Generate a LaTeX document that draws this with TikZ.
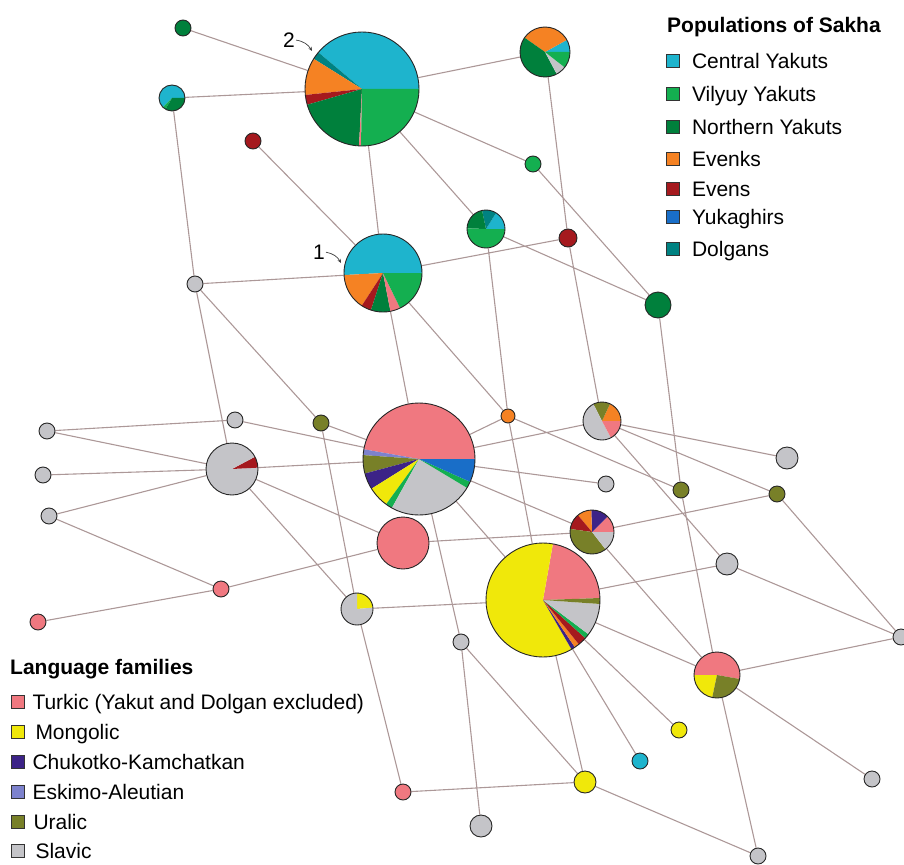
\documentclass[tikz,border=0pt]{standalone}
\usepackage{fontspec}
\setmainfont{Liberation Sans}
\usetikzlibrary{positioning,arrows.meta}
\pgfdeclarelayer{edges}
\pgfsetlayers{edges,main}
%% Farben der Populationen
\definecolor{cya}{RGB}{30,180,205}
\definecolor{vil}{RGB}{20,175,80}
\definecolor{nor}{RGB}{0,128,60}
\definecolor{eve}{RGB}{245,130,35}
\definecolor{evn}{RGB}{165,25,30}
\definecolor{yuk}{RGB}{25,110,200}
\definecolor{dol}{RGB}{0,130,130}
%% Farben der Sprachfamilien
\definecolor{tur}{RGB}{240,120,128}
\definecolor{yel}{RGB}{240,232,10}
\definecolor{chu}{RGB}{60,35,135}
\definecolor{esk}{RGB}{125,130,205}
\definecolor{ura}{RGB}{120,128,40}
\definecolor{sla}{RGB}{196,196,200}
\definecolor{linkcol}{RGB}{172,152,152}
\tikzset{
  hap/.style={circle,draw=black!85,line width=0.9pt,inner sep=0pt},
  link/.style={draw=linkcol,line width=1.1pt},
  key/.style={draw=black!80,line width=0.6pt,minimum size=13pt,inner sep=0pt},
  keytext/.style={inner sep=0pt,text height=15pt,text depth=0pt},
  tag/.style={-{Stealth[length=4pt,width=3.5pt]},line width=0.7pt,black!75}
}
\newcommand{\hapdot}[4]{\node[hap,fill=#4,minimum size=2*#3] (#1) at (#2) {};}
\newcommand{\happie}[4]{%
  \foreach \sa/\sb/\sc in {#4}{\fill[fill=\sc] (#2) -- ++(\sa:#3) arc[start angle=\sa,end angle=\sb,radius=#3] -- cycle;}
  \node[hap,minimum size=2*#3] (#1) at (#2) {};}
\begin{document}
\begin{tikzpicture}[x=1pt,y=1pt,font=\fontsize{21}{25}\selectfont]
\useasboundingbox (0,0) rectangle (904,-864);
%%Obere Gruppe (Sakha)
\hapdot{nor1}{183,-28}{8}{nor}
\happie{mix1}{172,-98}{13}{0/225/cya,225/240/vil,240/360/nor}
\happie{h2}{362,-89}{57}{0/140/cya,140/148/dol,148/186/eve,186/196/evn,196/267/nor,267/269/tur,269/360/vil}
\hapdot{evn1}{253,-141}{8}{evn}
\happie{mix2}{545,-52}{25}{0/29/cya,29/145/eve,145/298/nor,298/322/sla,322/360/vil}
\hapdot{vil1}{533,-164}{8}{vil}
\happie{mix3}{486,-229}{19}{0/58/cya,58/102/dol,102/178/nor,178/360/vil}
\hapdot{evn2}{568,-238}{9}{evn}
\hapdot{nor2}{658,-305}{13}{nor}
\happie{h1}{383,-273}{39}{0/183/cya,183/237/eve,237/252/evn,252/281/nor,281/296/tur,296/360/vil}
\hapdot{sla1}{195,-284}{8}{sla}
%%Mittlere Gruppe
\hapdot{sla2}{235,-420}{8}{sla}
\hapdot{ura1}{321,-423}{8}{ura}
\happie{hT}{419,-459}{56}{0/170/tur,170/176/esk,176/195/ura,195/212/chu,212/234/yel,234/241/vil,241/329/sla,329/336/vil,336/360/yuk}
\hapdot{eve1}{508,-416}{7}{eve}
\happie{mix4}{602,-421}{19}{0/65/eve,65/117/ura,117/298/sla,298/360/tur}
\hapdot{sla3}{606,-484}{8}{sla}
\happie{mix5}{592,-532}{22}{0/45/tur,45/92/chu,92/130/eve,130/172/evn,172/308/ura,308/360/sla}
\happie{mix6}{232,-469}{26}{0/3/sla,3/28/evn,28/360/sla}
\hapdot{sla4}{47,-431}{8}{sla}
\hapdot{sla5}{43,-475}{8}{sla}
\hapdot{sla6}{49,-516}{8}{sla}
\hapdot{tur1}{221,-589}{8}{tur}
\hapdot{tur2}{38,-622}{8}{tur}
\hapdot{tur3}{403,-543}{26}{tur}
\happie{mix7}{357,-609}{16}{5/90/yel,90/365/sla}
\hapdot{sla13}{787,-458}{11}{sla}
\hapdot{ura2}{777,-494}{8}{ura}
\hapdot{ura3}{681,-490}{8}{ura}
%%Untere Gruppe
\happie{hM}{543,-600}{57}{2/80/tur,80/300/yel,300/304/chu,304/309/eve,309/318/evn,318/323/vil,323/356/sla,356/362/ura}
\hapdot{sla7}{461,-642}{8}{sla}
\hapdot{tur4}{403,-792}{8}{tur}
\hapdot{sla8}{481,-826}{11}{sla}
\hapdot{yel1}{585,-782}{11}{yel}
\hapdot{cya1}{640,-761}{8}{cya}
\hapdot{yel2}{679,-730}{8}{yel}
\happie{mix8}{717,-675}{23}{-10/180/tur,180/258/yel,258/350/ura}
\hapdot{sla9}{872,-779}{8}{sla}
\hapdot{sla10}{758,-856}{8}{sla}
\hapdot{sla11}{901,-637}{8}{sla}
\hapdot{sla12}{727,-564}{11}{sla}
%%Verbindungen
\begin{pgfonlayer}{edges}
\draw[link] (nor1) -- (h2) (mix1) -- (h2) (h2) -- (mix2) (h2) -- (vil1) (h2) -- (mix3) (h2) -- (h1)
  (evn1) -- (h1) (mix1) -- (sla1) (sla1) -- (h1) (h1) -- (evn2) (mix3) -- (nor2) (vil1) -- (nor2)
  (mix2) -- (evn2) (evn2) -- (mix4) (mix3) -- (eve1) (h1) -- (eve1) (h1) -- (hT) (nor2) -- (ura3);
\draw[link] (sla1) -- (mix6) (sla1) -- (ura1) (sla2) -- (sla4) (sla2) -- (hT) (ura1) -- (hT) (ura1) -- (mix7)
  (mix6) -- (sla4) (mix6) -- (sla5) (mix6) -- (sla6) (mix6) -- (hT) (mix6) -- (tur3) (mix6) -- (mix7)
  (sla6) -- (tur1) (tur2) -- (tur1) (tur1) -- (tur3) (mix7) -- (hM) (mix7) -- (tur4);
\draw[link] (hT) -- (eve1) (hT) -- (mix4) (hT) -- (sla3) (hT) -- (mix5) (hT) -- (hM) (hT) -- (sla7)
  (sla7) -- (sla8) (sla7) -- (yel1) (hM) -- (yel1) (hM) -- (cya1) (hM) -- (yel2) (hM) -- (mix8)
  (hM) -- (sla12) (eve1) -- (hM) (eve1) -- (ura3) (tur3) -- (mix5);
\draw[link] (mix4) -- (sla12) (mix4) -- (ura2) (mix4) -- (sla13) (mix5) -- (mix8) (mix5) -- (ura2)
  (ura3) -- (mix8) (mix8) -- (sla11) (mix8) -- (sla9) (mix8) -- (sla10) (yel1) -- (sla10)
  (tur4) -- (yel1) (sla12) -- (sla11) (ura2) -- (sla11);
\end{pgfonlayer}
%%Marken 1 und 2
\node[inner sep=1pt] (lab2) at (289,-40) {2};
\coordinate (tip2) at (312,-51);
\draw[tag] (lab2) to[bend left=25] (tip2);
\node[inner sep=1pt] (lab1) at (319,-252) {1};
\coordinate (tip1) at (341,-263);
\draw[tag] (lab1) to[bend left=25] (tip1);
%%Legende oben rechts
\node[anchor=base west,inner sep=0pt,font=\fontsize{21}{25}\selectfont\bfseries] (popT) at (667,-32.5) {Populations of Sakha};
\node[key,fill=cya] (kCya) at (673,-61) {};
\node[keytext,right=12pt of kCya] {Central Yakuts};
\node[key,fill=vil] (kVil) at (673,-94) {};
\node[keytext,right=12pt of kVil] {Vilyuy Yakuts};
\node[key,fill=nor] (kNor) at (673,-127) {};
\node[keytext,right=12pt of kNor] {Northern Yakuts};
\node[key,fill=eve] (kEve) at (673,-159) {};
\node[keytext,right=12pt of kEve] {Evenks};
\node[key,fill=evn] (kEvn) at (673,-189) {};
\node[keytext,right=12pt of kEvn] {Evens};
\node[key,fill=yuk] (kYuk) at (673,-217) {};
\node[keytext,right=12pt of kYuk] {Yukaghirs};
\node[key,fill=dol] (kDol) at (673,-249) {};
\node[keytext,right=12pt of kDol] {Dolgans};
%%Legende unten links
\node[anchor=base west,inner sep=0pt,font=\fontsize{21}{25}\selectfont\bfseries] (famT) at (10,-674) {Language families};
\node[key,fill=tur] (kTur) at (17.5,-702) {};
\node[keytext,right=8pt of kTur] {Turkic (Yakut and Dolgan excluded)};
\node[key,fill=yel] (kYel) at (17.5,-732) {};
\node[keytext,right=11pt of kYel] {Mongolic};
\node[key,fill=chu] (kChu) at (17.5,-762) {};
\node[keytext,right=8pt of kChu] {Chukotko-Kamchatkan};
\node[key,fill=esk] (kEsk) at (17.5,-792) {};
\node[keytext,right=8pt of kEsk] {Eskimo-Aleutian};
\node[key,fill=ura] (kUra) at (17.5,-822) {};
\node[keytext,right=9pt of kUra] {Uralic};
\node[key,fill=sla] (kSla) at (17.5,-851) {};
\node[keytext,right=11pt of kSla] {Slavic};
\end{tikzpicture}
\end{document}
